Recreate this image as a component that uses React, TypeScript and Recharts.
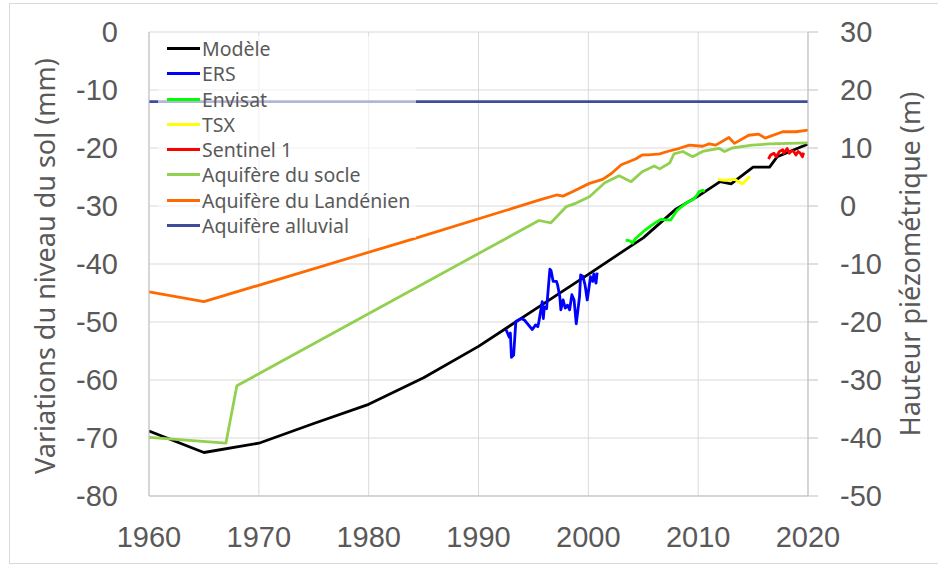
import React from 'react';
import { LineChart, Line, XAxis, YAxis, CartesianGrid } from 'recharts';

// x ticks (years) and y ticks for both axes
const yearTicks = [1960, 1970, 1980, 1990, 2000, 2010, 2020];
const mmTicks = [-80, -70, -60, -50, -40, -30, -20, -10, 0];
const mTicks = [-50, -40, -30, -20, -10, 0, 10, 20, 30];

// [year, mm] — ground level series (left axis)
const modele: [number, number][] = [
  [1960, -68.8], [1965, -72.5], [1970, -70.9], [1975, -67.5], [1980, -64.2], [1985, -59.6],
  [1990, -54.2], [1995, -48.0], [2000, -41.8], [2003, -38.0], [2005, -35.5], [2008, -30.5],
  [2010, -28.3], [2012, -25.8], [2013, -26.2], [2015, -23.3], [2016.5, -23.3], [2017.2, -21.5],
  [2020, -19.3],
];
const ers: [number, number][] = [
  [1992.5, -51.3], [1992.8, -52.6], [1992.9, -51.9], [1993.0, -56.1], [1993.2, -55.7],
  [1993.4, -49.9], [1993.9, -49.4], [1994.2, -49.7], [1994.9, -51.3], [1995.2, -50.5],
  [1995.4, -50.8], [1995.5, -49.9], [1995.6, -48.8], [1995.8, -46.5], [1995.9, -49.4],
  [1996.0, -47.4], [1996.2, -47.7], [1996.5, -40.9], [1996.6, -41.1], [1996.8, -43.0],
  [1997.1, -43.0], [1997.2, -43.6], [1997.4, -45.6], [1997.5, -47.9], [1997.7, -46.2],
  [1997.9, -47.6], [1998.1, -47.1], [1998.3, -47.9], [1998.5, -45.3], [1998.7, -46.2],
  [1998.9, -50.3], [1999.2, -45.6], [1999.3, -41.9], [1999.5, -42.1], [1999.7, -43.6],
  [1999.9, -46.2], [2000.2, -42.2], [2000.4, -43.0], [2000.5, -41.7], [2000.7, -43.3],
  [2000.8, -41.5],
];
const envisat: [number, number][] = [
  [2003.4, -35.9], [2003.8, -36.0], [2004.0, -36.4], [2004.3, -35.6], [2005.2, -34.1],
  [2006.0, -33.0], [2006.6, -32.3], [2007.1, -32.4], [2007.5, -32.4], [2008.1, -30.7],
  [2008.9, -29.5], [2009.6, -28.8], [2009.9, -28.1], [2010.1, -27.5], [2010.4, -27.3],
  [2010.6, -27.5],
];
const tsx: [number, number][] = [
  [2011.8, -25.4], [2012.4, -25.6], [2012.8, -25.5], [2013.3, -25.4], [2013.7, -25.8],
  [2014.0, -26.2], [2014.4, -25.5], [2014.7, -24.9],
];
const sentinel: [number, number][] = [
  [2016.4, -21.9], [2016.6, -21.2], [2016.9, -20.9], [2017.1, -21.5], [2017.4, -20.6],
  [2017.7, -20.3], [2017.8, -20.9], [2018.1, -20.1], [2018.3, -20.9], [2018.5, -20.5],
  [2018.7, -20.6], [2018.9, -21.2], [2019.1, -20.6], [2019.3, -20.9], [2019.5, -21.5],
  [2019.6, -20.8],
];

// [year, m] — piezometric heads (right axis)
const socle: [number, number][] = [
  [1960, -39.9], [1967.0, -40.9], [1968.0, -31.0], [1995.5, -2.5], [1996.6, -2.9],
  [1998.0, -0.1], [1998.9, 0.5], [2000.1, 1.6], [2001.5, 4.0], [2002.8, 5.2], [2003.9, 4.2],
  [2004.9, 5.9], [2006.0, 6.9], [2006.5, 6.4], [2007.4, 7.4], [2007.8, 9.0], [2008.6, 9.4],
  [2009.5, 8.5], [2010.4, 9.4], [2011.9, 9.95], [2012.4, 9.4], [2013.1, 10.0], [2014.9, 10.5],
  [2016.5, 10.7], [2020, 10.9],
];
const landenien: [number, number][] = [
  [1960, -14.8], [1965, -16.5], [1984, -5.7], [1995.5, 1.0], [1997.1, 1.9], [1997.7, 1.7],
  [1998.6, 2.5], [2000.1, 3.9], [2001.3, 4.6], [2002.1, 5.6], [2003.0, 7.1], [2004.3, 8.1],
  [2004.9, 8.8], [2005.5, 8.8], [2006.5, 9.0], [2007.2, 9.4], [2008.3, 9.95], [2009.2, 10.5],
  [2010.4, 10.3], [2011.0, 10.7], [2011.6, 10.5], [2012.8, 11.8], [2013.3, 10.8],
  [2014.6, 12.2], [2015.5, 12.4], [2016.1, 11.7], [2017.7, 12.8], [2018.9, 12.8], [2020, 13.1],
];
const alluvial: [number, number][] = [[1960, 18], [2020, 18]];

const series = [
  { name: 'Modèle', color: '#000000', axis: 'mm', pts: modele },
  { name: 'ERS', color: '#0000ff', axis: 'mm', pts: ers },
  { name: 'Envisat', color: '#00ff00', axis: 'mm', pts: envisat },
  { name: 'TSX', color: '#ffff00', axis: 'mm', pts: tsx },
  { name: 'Sentinel 1', color: '#ff0000', axis: 'mm', pts: sentinel },
  { name: 'Aquifère du socle', color: '#92d050', axis: 'm', pts: socle },
  { name: 'Aquifère du Landénien', color: '#ff6a00', axis: 'm', pts: landenien },
  { name: 'Aquifère alluvial', color: '#3f4c9c', axis: 'm', pts: alluvial },
];

const W = 938;
const H = 565;
const tickFont = { fill: '#595959', fontSize: 29, fontFamily: '"Liberation Sans", Arial, sans-serif' };
const textFont = '"Noto Sans", "Open Sans", sans-serif';

export default function App() {
  return (
    <div style={{ position: 'absolute', left: 0, top: 0, width: W, height: H, background: '#fff', overflow: 'hidden' }}>
      <div style={{ position: 'absolute', left: 9, top: 3, width: 940, height: 559, borderTop: '1px solid #d9d9d9', borderLeft: '1px solid #d9d9d9', borderBottom: '1px solid #d9d9d9' }} />
      <LineChart width={W} height={H} margin={{ top: 32, right: 0, bottom: 0, left: 0 }}>
        <CartesianGrid yAxisId="mm" stroke="#d9d9d9" />
        <XAxis
          type="number"
          dataKey="x"
          domain={[1960, 2020]}
          ticks={yearTicks}
          allowDataOverflow
          height={69}
          tickLine={false}
          tickSize={0}
          tickMargin={30}
          axisLine={{ stroke: '#bfbfbf' }}
          tick={tickFont}
        />
        <YAxis
          yAxisId="mm"
          domain={[-80, 0]}
          ticks={mmTicks}
          allowDataOverflow
          width={149}
          tickLine={false}
          tickSize={0}
          tickMargin={31}
          axisLine={{ stroke: '#bfbfbf' }}
          tick={tickFont}
        />
        <YAxis
          yAxisId="m"
          orientation="right"
          domain={[-50, 30]}
          ticks={mTicks}
          allowDataOverflow
          width={130}
          tickSize={10}
          tickMargin={22}
          tickLine={{ stroke: '#bfbfbf' }}
          axisLine={{ stroke: '#bfbfbf' }}
          tick={tickFont}
        />
        {series.map((s) => (
          <Line
            key={s.name}
            name={s.name}
            yAxisId={s.axis}
            data={s.pts.map(([x, y]) => ({ x, y }))}
            dataKey="y"
            type="linear"
            stroke={s.color}
            strokeWidth={2.8}
            strokeLinejoin="round"
            dot={false}
            activeDot={false}
            isAnimationActive={false}
          />
        ))}
      </LineChart>

      {/* legend box, sits over the plot */}
      <div
        style={{
          position: 'absolute', left: 158, top: 36, width: 258, height: 202,
          background: 'rgba(255,255,255,0.6)', fontFamily: textFont, fontSize: 19.5, color: '#595959',
        }}
      >
        {series.map((s) => (
          <div key={s.name} style={{ position: 'relative', height: 25.3, lineHeight: '25.3px', whiteSpace: 'nowrap' }}>
            <span style={{ position: 'absolute', left: 9, top: 11, width: 33, height: 3, background: s.color }} />
            <span style={{ position: 'absolute', left: 44, top: 0 }}>{s.name}</span>
          </div>
        ))}
      </div>

      <div
        style={{
          position: 'absolute', left: 45 - 250, top: 266 - 20, width: 500, height: 40, lineHeight: '40px',
          textAlign: 'center', transform: 'rotate(-90deg)', fontFamily: textFont, fontSize: 27, color: '#595959',
        }}
      >
        Variations du niveau du sol (mm)
      </div>
      <div
        style={{
          position: 'absolute', left: 910 - 250, top: 264 - 20, width: 500, height: 40, lineHeight: '40px',
          textAlign: 'center', transform: 'rotate(-90deg)', fontFamily: textFont, fontSize: 27, color: '#595959',
        }}
      >
        Hauteur piézométrique (m)
      </div>
    </div>
  );
}
